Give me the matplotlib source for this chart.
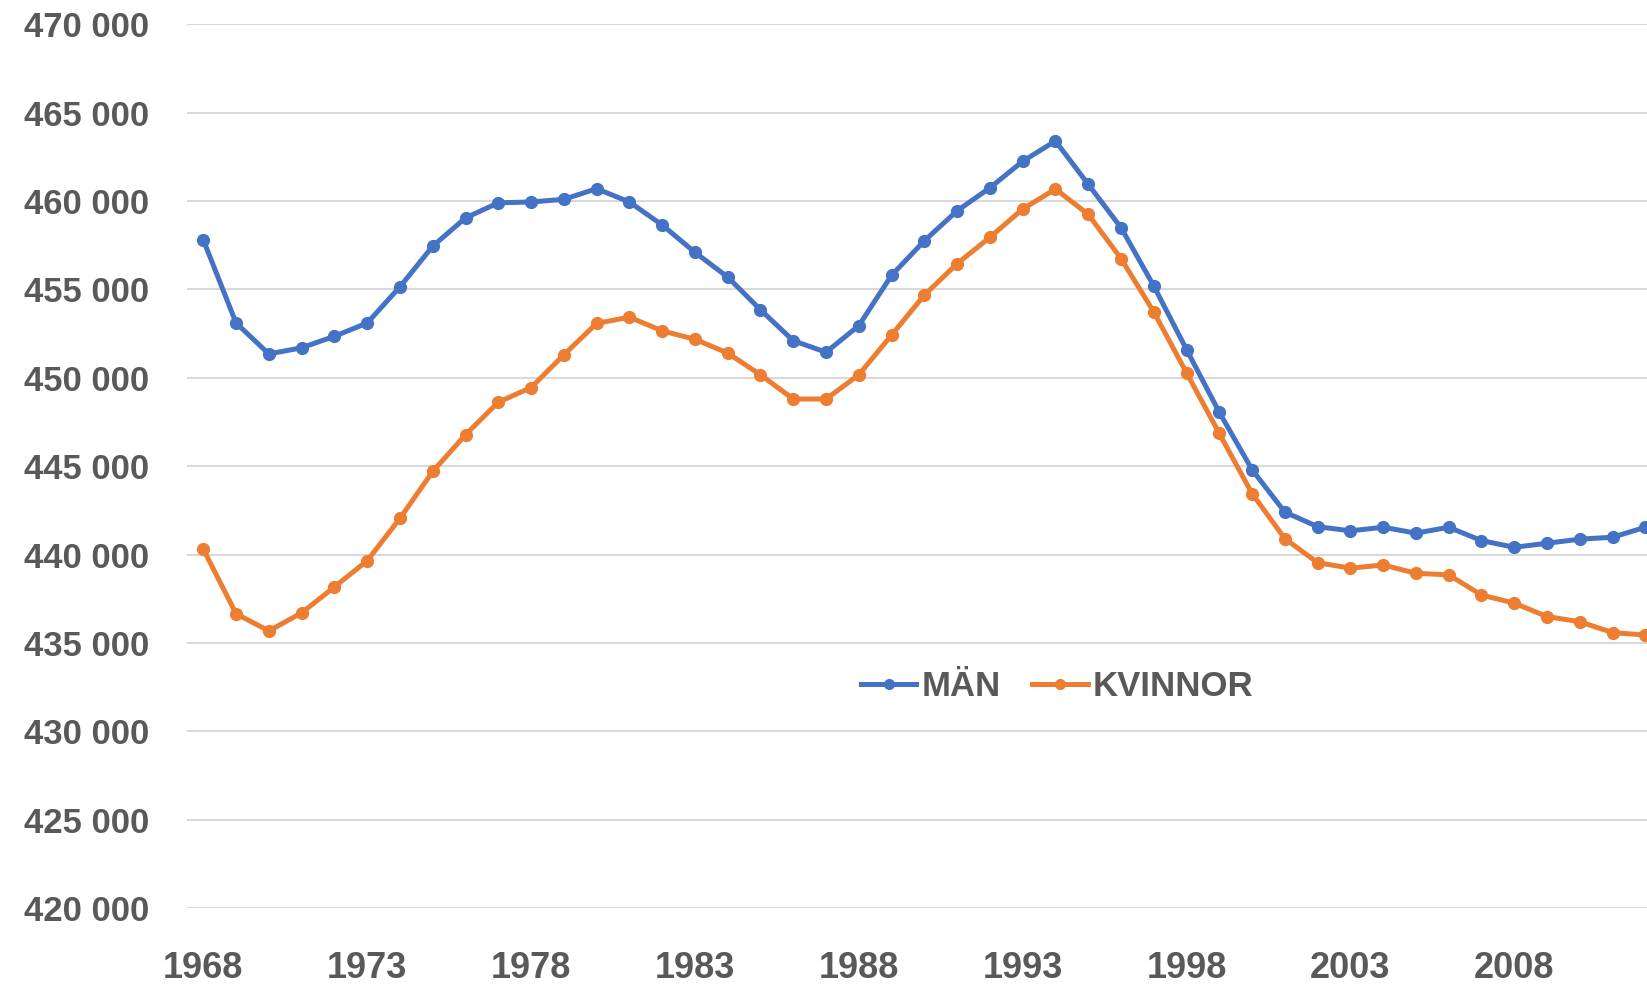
import matplotlib
matplotlib.use("Agg")
import matplotlib.pyplot as plt
import matplotlib.ticker as ticker

years = list(range(1968, 2013))

man = [457800, 453100, 451350, 451700, 452350, 453100, 455150, 457450, 459050, 459900,
       459950, 460100, 460700, 459950, 458650, 457100, 455700, 453850, 452100, 451450,
       452950, 455800, 457750, 459450, 460750, 462250, 463400, 460950, 458500, 455200,
       451600, 448050, 444800, 442400, 441580, 441340, 441545, 441210, 441545, 440790,
       440410, 440640, 440870, 440980, 441545]

kvinnor = [440300, 436650, 435680, 436700, 438170, 439650, 442050, 444700, 446780, 448620,
           449450, 451300, 453080, 453430, 452660, 452180, 451400, 450170, 448800, 448800,
           450170, 452420, 454680, 456460, 457950, 459550, 460680, 459250, 456750, 453730,
           450280, 446850, 443450, 440900, 439540, 439230, 439410, 438940, 438850, 437710,
           437250, 436490, 436200, 435580, 435450]

y_ticks = list(range(420000, 470001, 5000))
x_ticks = list(range(1968, 2012, 5))

grey = '#595959'

fig = plt.figure(figsize=(16.47, 9.86), dpi=100)
ax = fig.add_axes([0.1135, 0.0791, 0.8865, 0.8962])

ax.plot(years, man, color='#4472C4', linewidth=3.6, marker='o', markersize=8.5,
        label='MÄN')
ax.plot(years, kvinnor, color='#ED7D31', linewidth=3.6, marker='o', markersize=8.5,
        label='KVINNOR')

ax.set_xlim(1967.5, 2012.05)
ax.set_ylim(420000, 470000)
ax.set_yticks(y_ticks)
ax.set_xticks(x_ticks)
ax.yaxis.set_major_formatter(ticker.FuncFormatter(lambda v, p: f'{int(v):,}'.replace(',', ' ')))

ax.grid(axis='y', color='#D9D9D9', linewidth=1.5)
ax.set_axisbelow(True)
for s in ax.spines.values():
    s.set_visible(False)
ax.tick_params(length=0)
ax.tick_params(axis='y', pad=27)
ax.tick_params(axis='x', pad=31)

for lab in ax.get_yticklabels():
    lab.set_fontfamily(['Liberation Sans', 'DejaVu Sans'])
    lab.set_fontweight('bold')
    lab.set_fontsize(25)
    lab.set_color(grey)
for lab in ax.get_xticklabels():
    lab.set_fontfamily(['Liberation Sans', 'DejaVu Sans'])
    lab.set_fontweight('bold')
    lab.set_fontsize(26)
    lab.set_color(grey)

leg = ax.legend(loc='center', bbox_to_anchor=(0.596, 0.251), ncol=2, frameon=False,
                handlelength=1.6, handletextpad=0.15, columnspacing=0.9,
                prop={'family': ['Liberation Sans', 'DejaVu Sans'], 'weight': 'bold', 'size': 25})
for t in leg.get_texts():
    t.set_color(grey)
for h in leg.legend_handles:
    h.set_markersize(7)

fig.savefig('out.png', dpi=100)
